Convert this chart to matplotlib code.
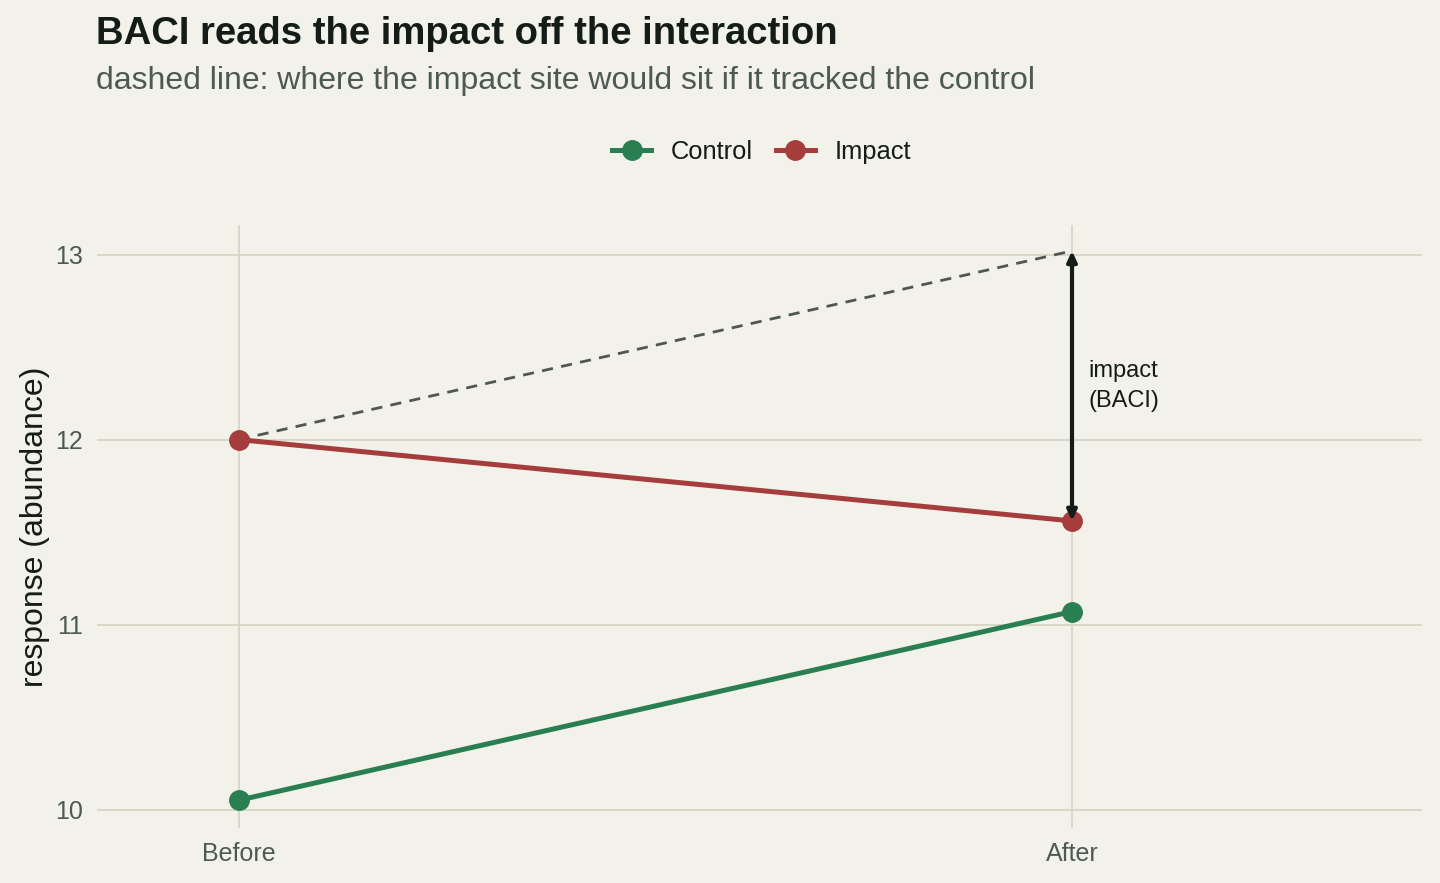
import matplotlib
matplotlib.use("Agg")
import matplotlib.pyplot as plt

periods = ["Before", "After"]
control = [10.05, 11.07]
impact = [12.00, 11.56]
yticks = [10, 11, 12, 13]

plt.rcParams['font.family'] = ['Liberation Sans', 'DejaVu Sans']

BG = "#F2F1EA"
GRID = "#D5D4C2"
GREEN = "#2A7F52"
RED = "#A63D3D"
DARK = "#141C18"
GRAY = "#4D5A53"

fig = plt.figure(figsize=(14.4, 8.83), dpi=100, facecolor=BG)
ax = fig.add_axes([97/1440, 1 - 828/883, (1422-97)/1440, (828-225)/883])
ax.set_facecolor(BG)

x = [1, 2]
ax.plot(x, control, color=GREEN, lw=3.6, marker="o", ms=14, label="Control", zorder=3)
ax.plot(x, impact, color=RED, lw=3.6, marker="o", ms=14, label="Impact", zorder=3)

counter = impact[0] + (control[1] - control[0])
ax.plot(x, [impact[0], counter], color="#4F5752", lw=2, ls=(0, (4, 3)), zorder=2)

ax.annotate("", xy=(2, counter), xytext=(2, impact[1]),
            arrowprops=dict(arrowstyle="<|-|>,head_length=0.6,head_width=0.28",
                            color=DARK, lw=3, shrinkA=0, shrinkB=0), zorder=4)
ax.text(2.02, (counter + impact[1]) / 2, "impact\n(BACI)", ha="left", va="center",
        fontsize=17, color=DARK, linespacing=1.45)

ax.set_xlim(0.83, 2.42)
ax.set_ylim(9.90, 13.16)
ax.set_xticks(x)
ax.set_xticklabels(periods)
ax.set_yticks(yticks)
ax.grid(True, color=GRID, lw=1.2)
ax.set_axisbelow(True)
for s in ax.spines.values():
    s.set_visible(False)
ax.tick_params(length=0, labelsize=18, labelcolor=GRAY, pad=10)
ax.set_ylabel("response (abundance)", fontsize=23, color=DARK, labelpad=4)

leg = fig.legend(loc="center", bbox_to_anchor=(762/1440, 1 - 152/883), ncol=2,
                 frameon=False, fontsize=18.4, handlelength=1.5, columnspacing=0.9,
                 handletextpad=0.8, labelcolor=DARK)

fig.text(96/1440, 1 - 34/883, "BACI reads the impact off the interaction", fontsize=27.5,
         fontweight="bold", color=DARK, ha="left", va="center")
fig.text(96/1440, 1 - 81/883, "dashed line: where the impact site would sit if it tracked the control",
         fontsize=23, color=GRAY, ha="left", va="center")

fig.savefig("out.png", dpi=100, facecolor=BG)
